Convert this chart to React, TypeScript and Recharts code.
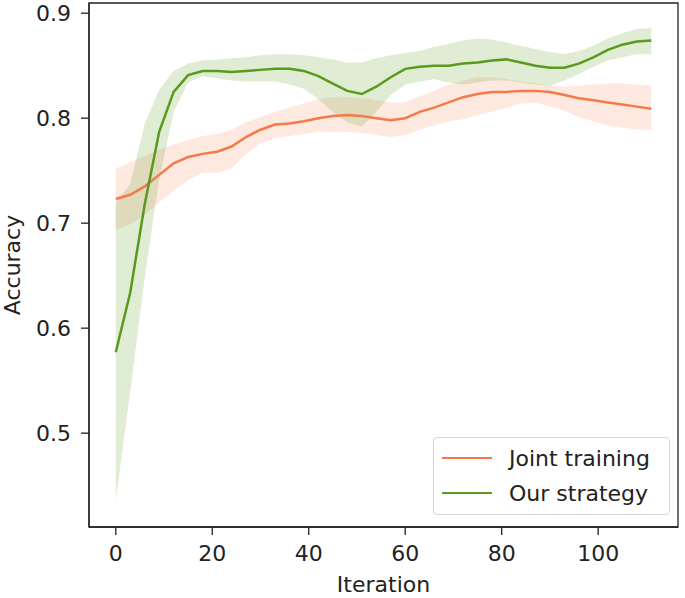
import { ComposedChart, Area, Line, XAxis, YAxis, ReferenceArea } from "recharts"

const iterations = [
  0, 3, 6, 9, 12, 15, 18, 21, 24, 27, 30, 33, 36, 39, 42, 45, 48, 51, 54, 57, 60, 63, 66, 69, 72, 75,
  78, 81, 84, 87, 90, 93, 96, 99, 102, 105, 108, 111,
]

const jointMean = [
  0.723, 0.727, 0.735, 0.746, 0.757, 0.763, 0.766, 0.768, 0.773, 0.782, 0.789, 0.794, 0.795, 0.797,
  0.8, 0.802, 0.803, 0.802, 0.8, 0.798, 0.8, 0.806, 0.81, 0.815, 0.82, 0.823, 0.825, 0.825, 0.826,
  0.826, 0.825, 0.822, 0.819, 0.817, 0.815, 0.813, 0.811, 0.809,
]
const jointLow = [
  0.694, 0.699, 0.708, 0.72, 0.731, 0.741, 0.748, 0.748, 0.752, 0.766, 0.776, 0.781, 0.783, 0.785,
  0.787, 0.787, 0.787, 0.786, 0.784, 0.782, 0.784, 0.789, 0.793, 0.797, 0.799, 0.803, 0.806, 0.81,
  0.814, 0.815, 0.811, 0.807, 0.801, 0.797, 0.793, 0.791, 0.789, 0.789,
]
const jointHigh = [
  0.752, 0.758, 0.764, 0.77, 0.775, 0.779, 0.783, 0.785, 0.789, 0.796, 0.801, 0.806, 0.81, 0.814,
  0.818, 0.82, 0.82, 0.819, 0.817, 0.815, 0.815, 0.821, 0.826, 0.832, 0.836, 0.839, 0.839, 0.837,
  0.835, 0.833, 0.831, 0.83, 0.831, 0.832, 0.833, 0.833, 0.832, 0.831,
]

const oursMean = [
  0.577, 0.634, 0.718, 0.787, 0.825, 0.841, 0.845, 0.845, 0.844, 0.845, 0.846, 0.847, 0.847, 0.845,
  0.84, 0.833, 0.826, 0.823, 0.83, 0.839, 0.847, 0.849, 0.85, 0.85, 0.852, 0.853, 0.855, 0.856, 0.853,
  0.85, 0.848, 0.848, 0.852, 0.858, 0.865, 0.87, 0.873, 0.874,
]
const oursLow = [
  0.436, 0.54, 0.648, 0.742, 0.806, 0.834, 0.84, 0.838, 0.836, 0.835, 0.835, 0.835, 0.832, 0.828,
  0.818, 0.806, 0.796, 0.792, 0.806, 0.822, 0.832, 0.835, 0.837, 0.834, 0.832, 0.834, 0.836, 0.836,
  0.834, 0.832, 0.831, 0.836, 0.842, 0.849, 0.855, 0.858, 0.861, 0.861,
]
const oursHigh = [
  0.72, 0.737, 0.795, 0.827, 0.845, 0.852, 0.855, 0.856, 0.857, 0.858, 0.86, 0.861, 0.861, 0.86,
  0.858, 0.856, 0.853, 0.853, 0.857, 0.86, 0.862, 0.864, 0.868, 0.871, 0.874, 0.876, 0.875, 0.872,
  0.869, 0.866, 0.863, 0.861, 0.864, 0.869, 0.876, 0.881, 0.885, 0.886,
]

const xTicks = [0, 20, 40, 60, 80, 100]
const yTicks = [0.5, 0.6, 0.7, 0.8, 0.9]
const xDomain = [-5.55, 116.55]
const yDomain = [0.4106, 0.9097]

const ORANGE = "#f47a4a"
const GREEN = "#5a9a1c"
const INK = "#222"
const FONT = "DejaVu Sans"

const data = iterations.map((iteration, i) => ({
  iteration,
  joint: jointMean[i],
  jointBand: [jointLow[i], jointHigh[i]],
  ours: oursMean[i],
  oursBand: [oursLow[i], oursHigh[i]],
}))

const legendItems = [
  { name: "Joint training", color: ORANGE },
  { name: "Our strategy", color: GREEN },
]

const XTitle = ({ viewBox }: any) => (
  <text
    x={viewBox.x + viewBox.width / 2}
    y={viewBox.y + viewBox.height - 6}
    textAnchor="middle"
    fontSize={22}
    fontFamily={FONT}
    fill={INK}
  >
    Iteration
  </text>
)

const YTitle = ({ viewBox }: any) => {
  const x = viewBox.x + 20
  const y = viewBox.y + viewBox.height / 2
  return (
    <text
      x={x}
      y={y}
      transform={`rotate(-90, ${x}, ${y})`}
      textAnchor="middle"
      fontSize={22}
      fontFamily={FONT}
      fill={INK}
    >
      Accuracy
    </text>
  )
}

export default function App() {
  const tickStyle = { fill: INK, fontSize: 22, fontFamily: FONT }
  return (
    <div
      style={{
        position: "absolute",
        left: 0,
        top: 0,
        width: 685,
        height: 598,
        background: "#fff",
        fontFamily: FONT,
      }}
    >
      <ComposedChart
        width={685}
        height={598}
        data={data}
        margin={{ top: 3, right: 7, bottom: 0, left: 0 }}
      >
        <XAxis
          dataKey="iteration"
          type="number"
          domain={xDomain}
          ticks={xTicks}
          allowDataOverflow
          height={71}
          tickSize={8}
          tickMargin={10}
          stroke={INK}
          strokeWidth={1.3}
          tick={tickStyle}
          label={<XTitle />}
        />
        <YAxis
          type="number"
          domain={yDomain}
          ticks={yTicks}
          allowDataOverflow
          width={89}
          tickSize={8}
          tickMargin={10}
          tickFormatter={(v: number) => v.toFixed(1)}
          stroke={INK}
          strokeWidth={1.3}
          tick={tickStyle}
          label={<YTitle />}
        />
        <Area
          type="linear"
          dataKey="jointBand"
          stroke="none"
          fill={ORANGE}
          fillOpacity={0.17}
          isAnimationActive={false}
        />
        <Area
          type="linear"
          dataKey="oursBand"
          stroke="none"
          fill={GREEN}
          fillOpacity={0.19}
          isAnimationActive={false}
        />
        <Line
          type="linear"
          dataKey="joint"
          stroke={ORANGE}
          strokeWidth={2.5}
          dot={false}
          isAnimationActive={false}
        />
        <Line
          type="linear"
          dataKey="ours"
          stroke={GREEN}
          strokeWidth={2.5}
          dot={false}
          isAnimationActive={false}
        />
        <ReferenceArea
          x1={xDomain[0]}
          x2={xDomain[1]}
          y1={yDomain[0]}
          y2={yDomain[1]}
          fill="none"
          stroke={INK}
          strokeWidth={1.3}
          ifOverflow="extendDomain"
        />
      </ComposedChart>
      <div
        style={{
          position: "absolute",
          left: 433,
          top: 437,
          width: 237,
          height: 78,
          boxSizing: "border-box",
          border: "1px solid #d4d4d4",
          borderRadius: 4,
          background: "rgba(255,255,255,0.8)",
        }}
      >
        {legendItems.map((item, i) => (
          <div
            key={item.name}
            style={{
              position: "absolute",
              left: 8,
              top: 3 + i * 35,
              height: 34,
              display: "flex",
              alignItems: "center",
              fontSize: 22,
              color: INK,
              whiteSpace: "nowrap",
            }}
          >
            <span
              style={{
                display: "inline-block",
                width: 50,
                height: 0,
                borderTop: `2.5px solid ${item.color}`,
                marginRight: 17,
              }}
            />
            {item.name}
          </div>
        ))}
      </div>
    </div>
  )
}
